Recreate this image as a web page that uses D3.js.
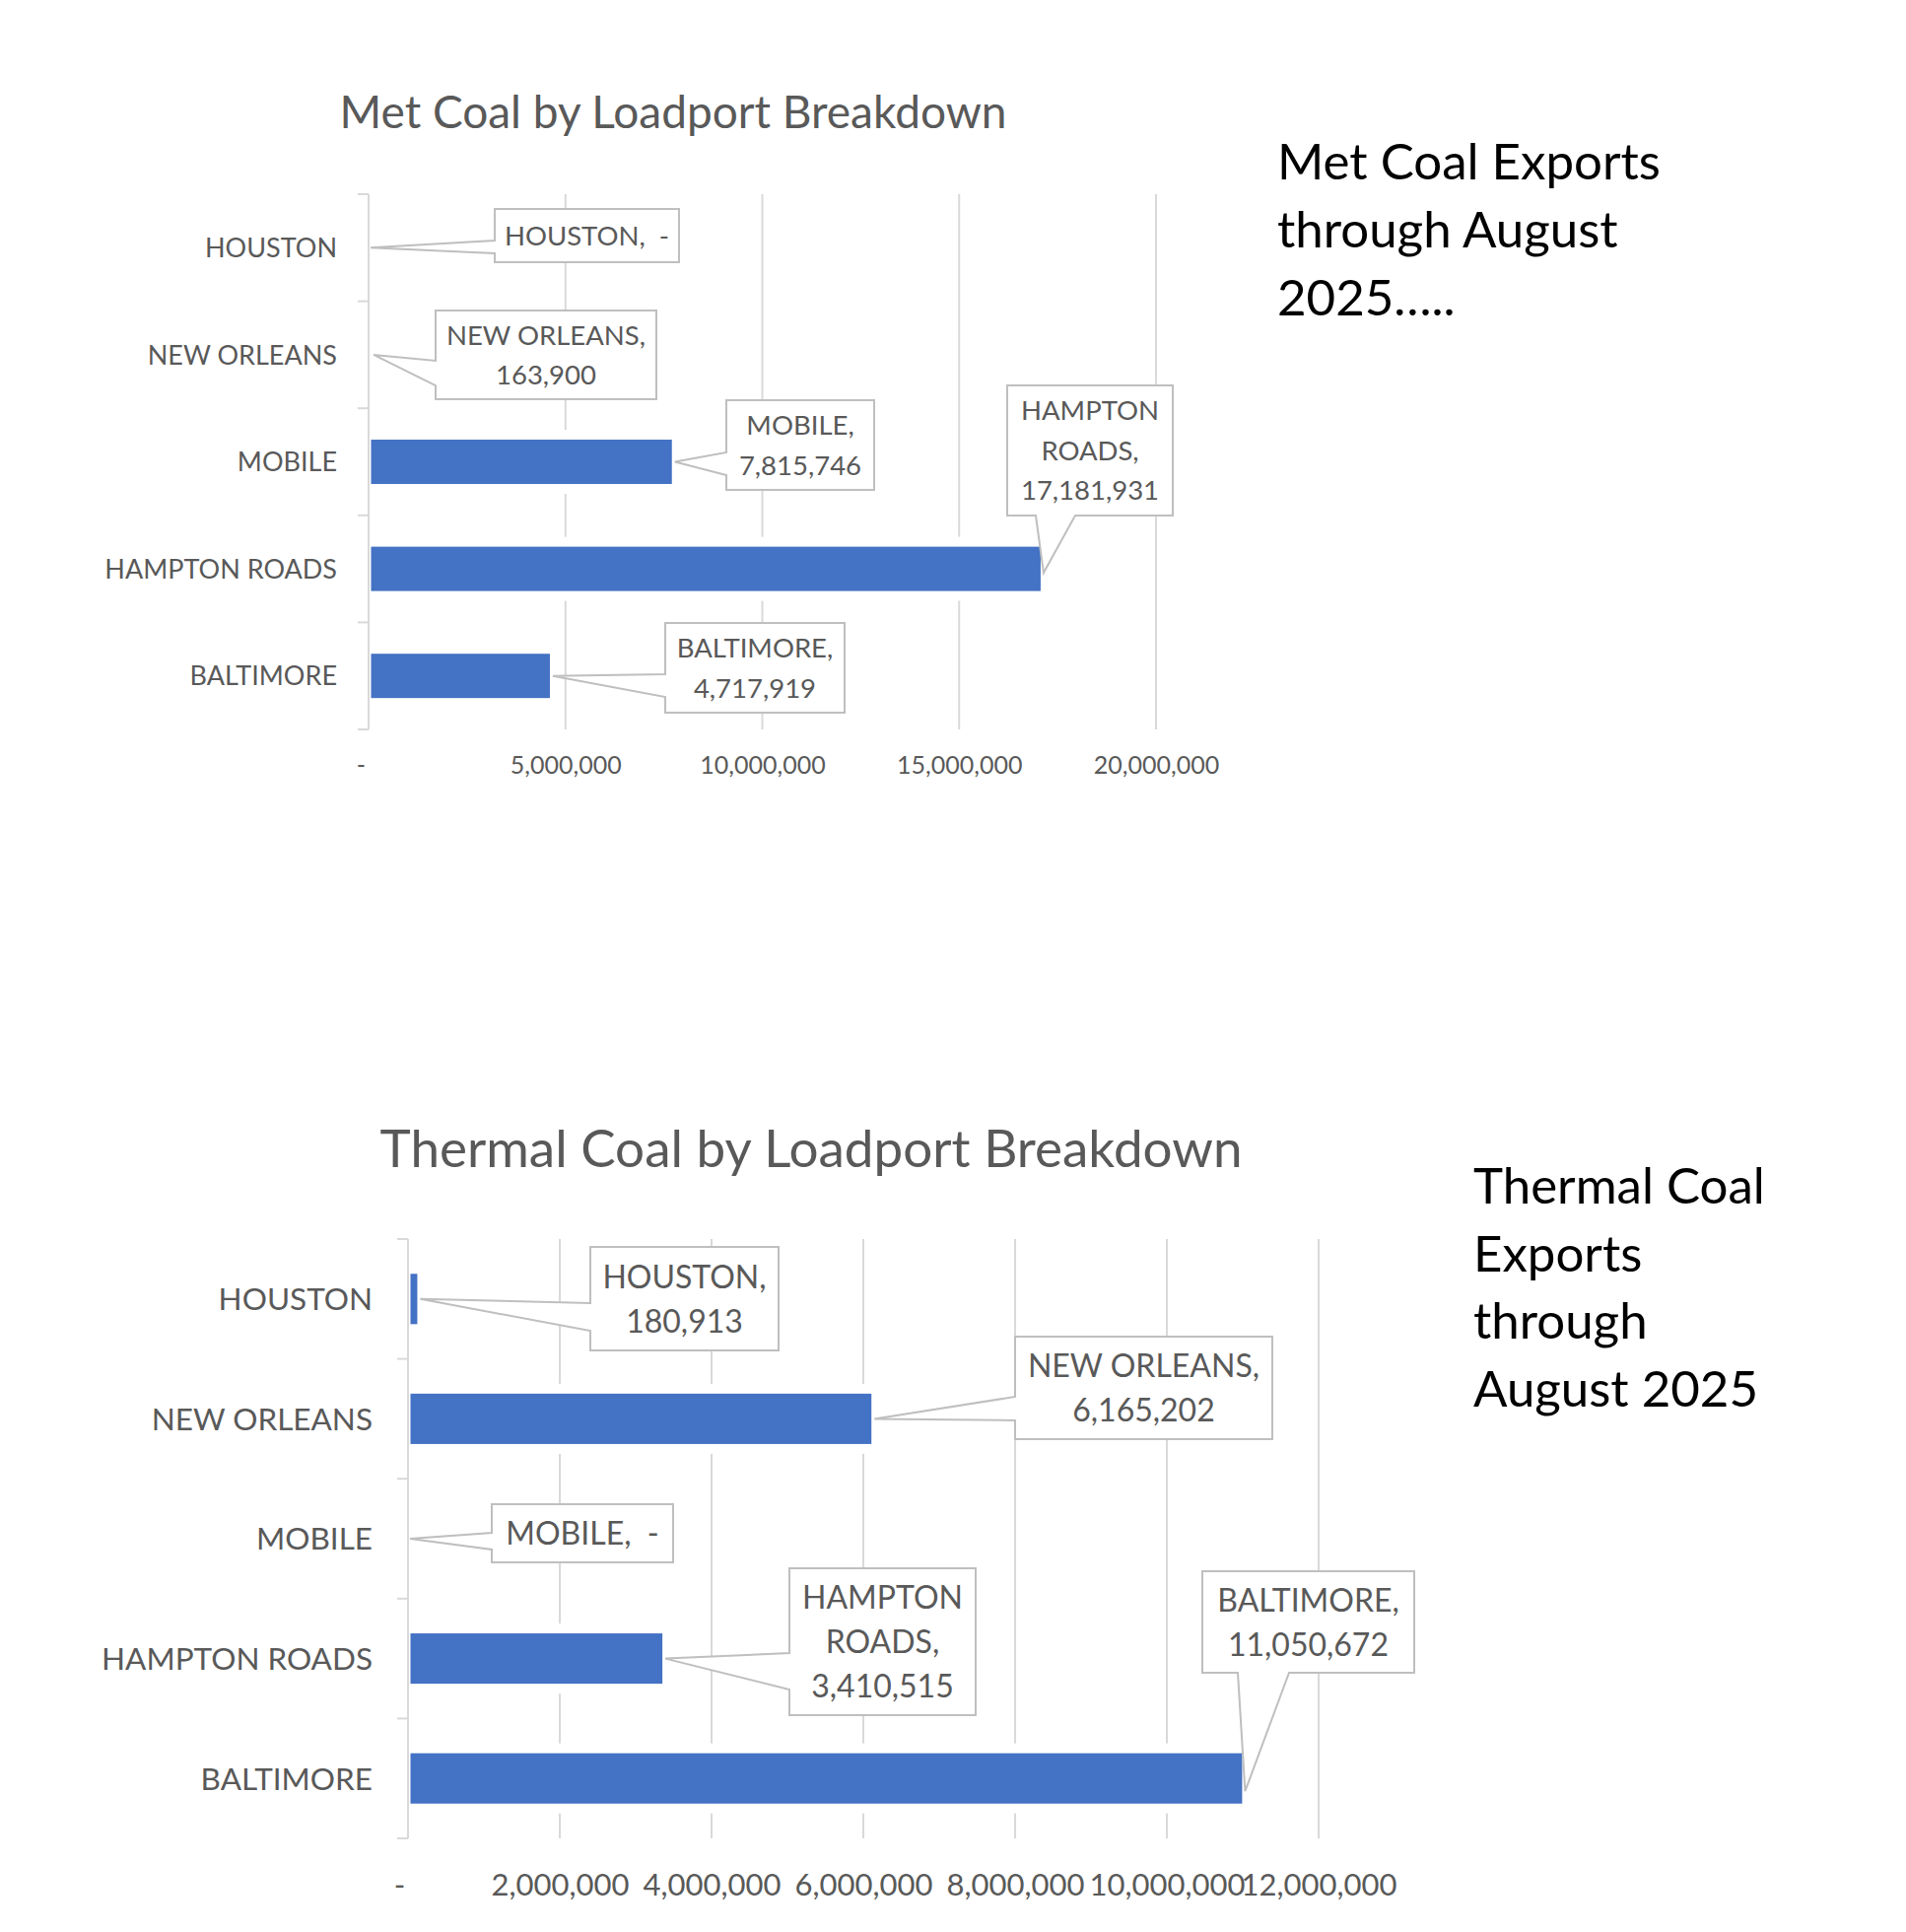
<!DOCTYPE html>
<html>
<head>
<meta charset="utf-8">
<script src="https://cdn.jsdelivr.net/npm/d3@7"></script>
<style>
  html, body { margin: 0; padding: 0; background: #ffffff; }
  svg { display: block; }
  text { white-space: pre; }
</style>
</head>
<body>
<script>
// ---------------- DATA ----------------
const categories = ["HOUSTON", "NEW ORLEANS", "MOBILE", "HAMPTON ROADS", "BALTIMORE"];
const metValues = [0, 163900, 7815746, 17181931, 4717919];
const thermalValues = [180913, 6165202, 0, 3410515, 11050672];
const metTicks = [0, 5000000, 10000000, 15000000, 20000000];
const thermalTicks = [0, 2000000, 4000000, 6000000, 8000000, 10000000, 12000000];
const metTitle = "Met Coal by Loadport Breakdown";
const thermalTitle = "Thermal Coal by Loadport Breakdown";
const metNote = ["Met Coal Exports", "through August", "2025….."];
const thermalNote = ["Thermal Coal", "Exports", "through", "August 2025"];

// ---------------- LAYOUT ----------------
const W = 1934, H = 1960;
const svg = d3.select("body").append("svg").attr("width", W).attr("height", H);

const TEXT = "#595959", GRID = "#d9d9d9", BAR = "#4472C4", BOX = "#bfbfbf";
const FONT = "Lato, 'Open Sans', sans-serif";
const BAR_IN_L = 2.5, BAR_IN_R = 4.5;   // visible inset of bars (white outline)

const metLayout = {
  x0: 374, x1: 1173, y0: 197, y1: 740, pad: 0.586,
  title: { x: 683, y: 130, size: 46 },
  catSize: 27, catGap: 32, tickSize: 25, tickY: 776, zeroShift: -8,
  callSize: 27.5, lineH: 40.5,
  note: { x: 1296, y: 182, size: 51, lineH: 69 },
  callouts: [
    { bx: 502, by: 212, bw: 187, bh: 54, side: "left", a1: 244, a2: 257, dy: 0, mode: "one" },
    { bx: 442, by: 315, bw: 224, bh: 90, side: "left", a1: 366, a2: 391, dy: 0, mode: "two" },
    { bx: 737, by: 406, bw: 150, bh: 91, side: "left", a1: 459, a2: 482, dy: 0, mode: "two" },
    { bx: 1022, by: 391, bw: 168, bh: 132, side: "bottom", a1: 1051, a2: 1091, dy: 4, mode: "three" },
    { bx: 675, by: 632, bw: 182, bh: 91, side: "left", a1: 684, a2: 707, dy: 0, mode: "two" }
  ]
};
const thermalLayout = {
  x0: 414, x1: 1338, y0: 1257, y1: 1865, pad: 0.58,
  title: { x: 823, y: 1184, size: 53 },
  catSize: 31.5, catGap: 36, tickSize: 31, tickY: 1912, zeroShift: -9,
  callSize: 32, lineH: 45,
  note: { x: 1495, y: 1221, size: 51, lineH: 68.5 },
  callouts: [
    { bx: 599, by: 1265, bw: 191, bh: 105, side: "left", a1: 1322, a2: 1350, dy: 0, mode: "two" },
    { bx: 1030, by: 1356, bw: 261, bh: 104, side: "left", a1: 1417, a2: 1441, dy: 0, mode: "two" },
    { bx: 499, by: 1526, bw: 184, bh: 59, side: "left", a1: 1555, a2: 1572, dy: 0, mode: "one" },
    { bx: 801, by: 1591, bw: 189, bh: 149, side: "left", a1: 1677, a2: 1714, dy: 0, mode: "three" },
    { bx: 1220, by: 1594, bw: 215, bh: 103, side: "bottom", a1: 1256, a2: 1308, dy: 13, mode: "two" }
  ]
};

const fmt = v => v === 0 ? "-" : d3.format(",")(v);

function labelLines(cat, v, mode) {
  const val = fmt(v);
  if (mode === "one") return [cat + ",  " + val];
  if (mode === "two") return [cat + ",", val];
  const words = cat.split(" ");
  return [words[0], words.slice(1).join(" ") + ",", val];
}

function drawChart(values, ticks, title, note, L) {
  const g = svg.append("g");
  const x = d3.scaleLinear().domain([0, ticks[ticks.length - 1]]).range([L.x0, L.x1]);
  const y = d3.scaleBand().domain(categories).range([L.y0, L.y1])
    .paddingInner(L.pad).paddingOuter(L.pad / 2);
  const step = y.step();
  const rows = values.map((v, i) => ({ v, c: categories[i] }));
  const visible = rows.filter(d => x(d.v) - BAR_IN_R > x(0) + BAR_IN_L);

  // title
  g.append("text").attr("x", L.title.x).attr("y", L.title.y)
    .attr("text-anchor", "middle").attr("font-family", FONT)
    .attr("font-size", L.title.size).attr("fill", TEXT).text(title);

  // gridlines (non-zero)
  g.append("g").selectAll("line").data(ticks.filter(t => t > 0)).join("line")
    .attr("x1", d => x(d)).attr("x2", d => x(d))
    .attr("y1", L.y0).attr("y2", L.y1)
    .attr("stroke", GRID).attr("stroke-width", 2);

  // white halo (outline) behind bars
  g.append("g").selectAll("rect").data(visible).join("rect")
    .attr("x", x(0) + 1).attr("y", d => y(d.c) - 10)
    .attr("width", d => x(d.v) - x(0) + 8).attr("height", y.bandwidth() + 20)
    .attr("fill", "#ffffff");

  // category axis line with ticks at band boundaries
  const yAxis = g.append("g");
  yAxis.append("line").attr("x1", L.x0).attr("x2", L.x0).attr("y1", L.y0).attr("y2", L.y1)
    .attr("stroke", GRID).attr("stroke-width", 2);
  yAxis.selectAll("line.tk").data(d3.range(categories.length + 1)).join("line").attr("class", "tk")
    .attr("x1", L.x0 - 11).attr("x2", L.x0)
    .attr("y1", i => L.y0 + i * step).attr("y2", i => L.y0 + i * step)
    .attr("stroke", GRID).attr("stroke-width", 2);
  yAxis.selectAll("text").data(categories).join("text")
    .attr("x", L.x0 - L.catGap).attr("y", d => y(d) + y.bandwidth() / 2)
    .attr("dy", "0.36em").attr("text-anchor", "end")
    .attr("font-family", FONT).attr("font-size", L.catSize).attr("fill", TEXT)
    .text(d => d);

  // value axis labels
  const xAxis = d3.axisBottom(x).tickValues(ticks).tickSize(0).tickFormat(fmt);
  const xg = g.append("g").attr("transform", `translate(0,${L.tickY})`).call(xAxis);
  xg.select(".domain").remove();
  xg.selectAll("text").attr("font-family", FONT).attr("font-size", L.tickSize)
    .attr("fill", TEXT).attr("y", 0).attr("dy", "0.36em")
    .attr("dx", d => d === 0 ? L.zeroShift : 0);

  // bars
  g.append("g").selectAll("rect").data(visible).join("rect")
    .attr("x", x(0) + BAR_IN_L).attr("y", d => y(d.c))
    .attr("width", d => x(d.v) - BAR_IN_R - x(0) - BAR_IN_L).attr("height", y.bandwidth())
    .attr("fill", BAR);

  // callouts
  rows.forEach((d, i) => {
    const c = L.callouts[i];
    const tx = d.v > 0 ? Math.max(x(d.v) - 1.5, x(0) + 4) : x(0) + 2;
    const ty = y(d.c) + y.bandwidth() / 2 + c.dy;
    let p;
    const r = c.bx + c.bw, b = c.by + c.bh;
    if (c.side === "left") {
      p = `M${c.bx},${c.by}H${r}V${b}H${c.bx}V${c.a2}L${tx},${ty}L${c.bx},${c.a1}Z`;
    } else {
      p = `M${c.bx},${c.by}H${r}V${b}H${c.a2}L${tx},${ty}L${c.a1},${b}H${c.bx}Z`;
    }
    g.append("path").attr("d", p).attr("fill", "#ffffff")
      .attr("stroke", BOX).attr("stroke-width", 2).attr("stroke-linejoin", "miter");
    const lines = labelLines(d.c, d.v, c.mode);
    const cy = c.by + c.bh / 2;
    const t = g.append("text").attr("text-anchor", "middle").attr("font-family", FONT)
      .attr("font-size", L.callSize).attr("fill", TEXT);
    lines.forEach((ln, k) => {
      t.append("tspan").attr("x", c.bx + c.bw / 2)
        .attr("y", cy + (k - (lines.length - 1) / 2) * L.lineH)
        .attr("dy", "0.36em").text(ln);
    });
  });

  // side note
  const nt = g.append("text").attr("font-family", FONT).attr("font-size", L.note.size).attr("fill", "#000000");
  note.forEach((ln, k) => {
    nt.append("tspan").attr("x", L.note.x).attr("y", L.note.y + k * L.note.lineH).text(ln);
  });
}

drawChart(metValues, metTicks, metTitle, metNote, metLayout);
drawChart(thermalValues, thermalTicks, thermalTitle, thermalNote, thermalLayout);
</script>
</body>
</html>
